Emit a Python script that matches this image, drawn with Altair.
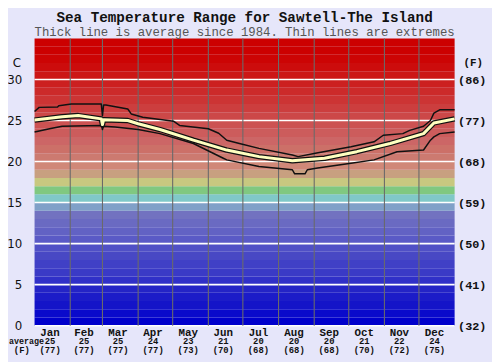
import altair as alt
import pandas as pd

TITLE = "Sea Temperature Range for Sawtell-The Island"
SUBTITLE = "Thick line is average since 1984. Thin lines are extremes"

MONTHS = ["Jan", "Feb", "Mar", "Apr", "May", "Jun", "Jul", "Aug", "Sep", "Oct", "Nov", "Dec"]
MONTH_DAYS = [31, 28, 31, 30, 31, 30, 31, 31, 30, 31, 30, 31]
MONTH_AVG_C = [25, 25, 25, 24, 23, 21, 20, 20, 20, 21, 22, 24]
MONTH_AVG_F = [77, 77, 77, 77, 73, 70, 68, 68, 68, 70, 72, 75]

MAX_DAY = [0, 4, 20, 21, 32, 58, 59, 60, 62, 81, 84, 94, 121, 126, 151, 160, 167, 178, 195,
           224, 229, 244, 275, 295, 303, 320, 326, 338, 344, 347, 352, 365]
MAX_T = [26.1, 26.6, 26.65, 26.8, 27.0, 27.0, 25.6, 26.9, 26.9, 26.4, 25.8, 25.4, 24.9, 24.4, 24.0,
         23.45, 22.6, 22.2, 21.6, 20.8, 20.6, 21.0, 21.8, 22.4, 23.2, 23.4, 23.8, 24.3, 25.0, 25.9,
         26.3, 26.3]

MIN_DAY = [0, 13, 24, 58, 59, 60, 70, 90, 109, 138, 164, 167, 195, 224, 226, 235, 237, 246, 275,
           295, 315, 338, 344, 347, 352, 365]
MIN_T = [23.6, 24.0, 24.3, 24.4, 23.9, 24.3, 24.2, 23.9, 23.4, 22.2, 20.4, 20.2, 19.4, 19.0, 18.5,
         18.5, 19.0, 19.2, 19.8, 20.2, 21.2, 21.4, 22.6, 23.0, 23.4, 23.6]

AVG_DAY = [0, 24, 38, 58, 59, 60, 81, 90, 109, 138, 167, 195, 224, 252, 280, 309, 338, 347, 365]
AVG_T = [25.05, 25.45, 25.6, 25.2, 24.5, 25.1, 25.0, 24.6, 23.9, 22.6, 21.4, 20.6, 20.1, 20.4,
         21.2, 22.2, 23.4, 24.7, 25.2]

BAND_COLORS = ["#0000cc", "#0a0acb", "#1414c8", "#1c1cc8", "#2424c6", "#3030c8", "#3a3ac6",
               "#4040c6", "#4848c4", "#5050c6", "#5a5ac6", "#6262c4", "#6a6ac2", "#7272c0",
               "#80a0c8", "#80c8c8", "#80c880", "#c8c880", "#c8a080", "#d08878", "#cc7a70",
               "#cc7068", "#cc6666", "#cc5c5c", "#cc5252", "#cc4848", "#cc3e3e", "#cc3434",
               "#cc2a2a", "#cc2020", "#cc1616", "#cc0c0c", "#cc0404", "#cc0000", "#cc0000"]

GRID_C = [0, 5, 10, 15, 20, 25, 30]

W, H = 427, 292
YS = alt.Scale(domain=[0, 35], nice=False, zero=False)
XS = alt.Scale(domain=[0, 365], nice=False, zero=False)

bands = pd.DataFrame({"lo": list(range(35)), "hi": list(range(1, 36)), "c": BAND_COLORS})
starts = [sum(MONTH_DAYS[:i]) for i in range(12)]
ends = [sum(MONTH_DAYS[:i + 1]) for i in range(12)]
months = pd.DataFrame({
    "name": MONTHS,
    "mid": [(s + e) / 2 - 2 for s, e in zip(starts, ends)],
    "c": [str(v) for v in MONTH_AVG_C],
    "f": ["(%d)" % v for v in MONTH_AVG_F],
})
bounds = pd.DataFrame({"d": ends[:-1]})
grid = pd.DataFrame({"v": GRID_C})
mx = pd.DataFrame({"d": MAX_DAY, "t": MAX_T})
mn = pd.DataFrame({"d": MIN_DAY, "t": MIN_T})
av = pd.DataFrame({"d": AVG_DAY, "t": AVG_T})

band_layer = alt.Chart(bands).mark_rect().encode(
    x=alt.value(0), x2=alt.value(W),
    y=alt.Y("lo:Q", scale=YS, axis=alt.Axis(
        values=GRID_C, orient="left", title=None, ticks=False, domain=False, grid=False,
        labelFont="DejaVu Sans", labelFontSize=12, labelColor="#111", labelPadding=13,
        labelOverlap=False, labelFlush=False)),
    y2="hi:Q",
    color=alt.Color("c:N", scale=None),
)

hgrid = alt.Chart(grid).mark_rule(color="white", strokeWidth=1.6).encode(
    x=alt.value(0), x2=alt.value(W),
    y=alt.Y("v:Q", scale=YS, axis=alt.Axis(
        values=GRID_C, orient="right", title=None, ticks=False, domain=False, grid=False,
        labelExpr='"(" + round(datum.value * 9 / 5 + 32) + ")"',
        labelFont="Liberation Mono", labelFontWeight="bold", labelFontSize=12,
        labelColor="#111", labelPadding=3, labelOverlap=False, labelFlush=False)),
)

vgrid = alt.Chart(bounds).mark_rule(color="#6a6a6a", strokeWidth=1.1).encode(
    x=alt.X("d:Q", scale=XS, axis=None), y=alt.value(0), y2=alt.value(H),
)

def line(df, color, width):
    return alt.Chart(df).mark_line(color=color, strokeWidth=width, strokeJoin="round").encode(
        x=alt.X("d:Q", scale=XS, axis=None),
        y=alt.Y("t:Q", scale=YS, axis=None),
    )

max_line = line(mx, "#111", 1.5)
min_line = line(mn, "#111", 1.5)
avg_back = line(av, "#111", 5.5)
avg_front = line(av, "#ffffc0", 3)

def label(text, x, y, font="Liberation Mono", size=9, weight="bold", color="#111", align="center"):
    return alt.Chart(pd.DataFrame({"t": [text]})).mark_text(
        font=font, fontWeight=weight, fontSize=size, color=color, baseline="middle", align=align
    ).encode(text="t:N", x=alt.value(x), y=alt.value(y))

title = label(TITLE, W / 2, -20.5, size=14.5)
subtitle = label(SUBTITLE, W / 2, -6.5, size=12.5, weight="normal", color="#555")
unit_c = label("C", -18, H - 32 * H / 35, font="DejaVu Sans", size=12, weight="normal")
unit_f = label("(F)", 446, H - 32 * H / 35, size=11)
avg_lbl = label("average", -26, H + 16, size=8.5, align="left")
f_lbl = label("(F)", -13, H + 25)

mon_name = alt.Chart(months).mark_text(
    font="Liberation Mono", fontWeight="bold", fontSize=11, color="#111", baseline="middle"
).encode(text="name:N", x=alt.X("mid:Q", scale=XS, axis=None), y=alt.value(H + 7))

mon_c = alt.Chart(months).mark_text(
    font="Liberation Mono", fontWeight="bold", fontSize=9, color="#111", baseline="middle"
).encode(text="c:N", x=alt.X("mid:Q", scale=XS, axis=None), y=alt.value(H + 16))

mon_f = alt.Chart(months).mark_text(
    font="Liberation Mono", fontWeight="bold", fontSize=9, color="#111", baseline="middle"
).encode(text="f:N", x=alt.X("mid:Q", scale=XS, axis=None), y=alt.value(H + 25))

chart = alt.layer(
    band_layer, hgrid, vgrid, max_line, min_line, avg_back, avg_front,
    title, subtitle, unit_c, unit_f, mon_name, mon_c, mon_f, avg_lbl, f_lbl,
).resolve_axis(y="independent").resolve_scale(color="independent").properties(
    width=W, height=H,
    autosize=alt.AutoSizeParams(type="none"),
    padding={"left": 27, "top": 28, "right": 38, "bottom": 34},
    background="#e6e6fa",
).configure_view(stroke=None)

chart.save("out.html", embed_options={"renderer": "svg", "actions": False})
